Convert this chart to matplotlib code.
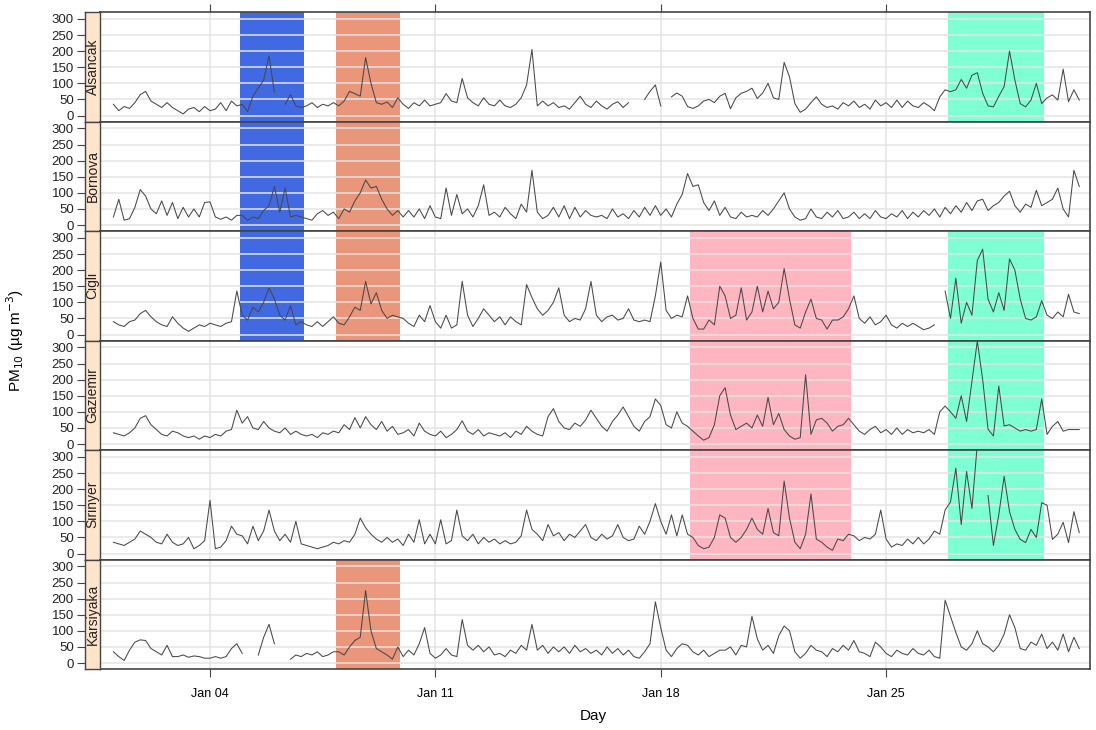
import numpy as np
import pandas as pd
import matplotlib
matplotlib.use("Agg")
import matplotlib.pyplot as plt
import matplotlib.dates as mdates

plt.rcParams['font.family'] = ['Liberation Sans', 'DejaVu Sans']

nan = np.nan

# 4-hourly PM10 readings, Jan 1 00:00 .. Jan 31 00:00 (6 values per day)
stations = ["Alsancak", "Bornova", "Cigli", "Gaziemir", "Sirinyer", "Karsiyaka"]

alsancak = [
    35, 15, 28, 22, 40, 65, 75, 45, 35, 25, 40, 25,
    15, 5, 20, 25, 12, 28, 15, 20, 40, 15, 45, 30,
    35, 12, 60, 85, 110, 185, 72, nan, 35, 65, 30, 25,
    30, 40, 25, 35, 30, 40, 30, 45, 75, 68, 60, 180,
    100, 40, 35, 42, 25, 55, 35, 22, 40, 30, 48, 30,
    35, 40, 68, 45, 40, 115, 55, 40, 30, 55, 35, 30,
    48, 30, 25, 35, 55, 95, 205, 30, 45, 30, 40, 25,
    30, 20, 40, 60, 35, 25, 45, 30, 20, 35, 43, 25,
    40, nan, nan, 50, 75, 95, 30, nan, 58, 70, 60, 28,
    22, 30, 45, 50, 40, 60, 69, 21, 55, 69, 75, 85,
    53, 70, 100, 55, 50, 165, 120, 37, 10, 20, 40, 58,
    35, 25, 30, 20, 40, 30, 45, 25, 35, 20, 48, 30,
    40, 25, 48, 25, 45, 30, 25, 40, 30, 15, 58, 80,
    74, 80, 112, 85, 125, 133, 69, 30, 27, 60, 90, 200,
    110, 37, 27, 48, 100, 37, 55, 64, 48, 144, 43, 80,
    48]

bornova = [
    25, 80, 15, 20, 55, 110, 90, 50, 35, 75, 30, 70,
    20, 55, 25, 50, 25, 70, 72, 25, 18, 25, 15, 30,
    30, 15, 25, 20, 45, 60, 120, 40, 115, 25, 30, 25,
    20, 15, 35, 45, 30, 40, 20, 50, 40, 75, 100, 140,
    115, 120, 80, 50, 30, 45, 25, 45, 25, 50, 20, 60,
    25, 20, 115, 30, 95, 35, 50, 25, 60, 125, 30, 40,
    25, 55, 35, 20, 65, 40, 170, 40, 20, 30, 55, 25,
    60, 20, 55, 25, 45, 30, 25, 30, 20, 50, 25, 35,
    20, 45, 25, 55, 30, 60, 30, 50, 25, 65, 95, 160,
    120, 125, 70, 45, 75, 30, 55, 25, 20, 40, 25, 30,
    25, 45, 30, 50, 75, 100, 50, 25, 15, 20, 50, 25,
    20, 40, 25, 45, 20, 25, 40, 20, 35, 20, 45, 25,
    20, 35, 25, 45, 20, 40, 25, 45, 30, 50, 25, 55,
    35, 60, 40, 70, 45, 75, 80, 45, 60, 70, 90, 105,
    60, 40, 65, 55, 108, 60, 70, 80, 115, 50, 25, 170,
    120]

cigli = [
    40, 30, 25, 40, 45, 65, 75, 55, 40, 30, 25, 55,
    35, 20, 10, 20, 30, 25, 35, 30, 25, 35, 40, 135,
    60, 45, 85, 70, 100, 145, 110, 60, 45, 90, 30, 40,
    30, 25, 40, 25, 40, 55, 35, 30, 55, 85, 75, 165,
    95, 130, 75, 50, 60, 55, 50, 35, 25, 60, 40, 90,
    40, 20, 60, 20, 30, 165, 60, 25, 50, 80, 60, 40,
    55, 30, 55, 40, 30, 155, 115, 80, 60, 75, 100, 145,
    60, 40, 50, 45, 80, 165, 60, 40, 55, 60, 45, 50,
    80, 45, 40, 45, 40, 120, 225, 75, 50, 60, 55, 120,
    50, 17, 17, 45, 30, 150, 120, 50, 60, 145, 45, 70,
    150, 70, 135, 80, 100, 205, 110, 30, 20, 70, 110, 50,
    45, 17, 45, 45, 55, 80, 120, 50, 35, 55, 30, 40,
    60, 30, 20, 35, 25, 35, 25, 15, 20, 30, nan, 135,
    50, 175, 35, 100, 60, 230, 265, 110, 70, 130, 75, 235,
    200, 110, 50, 45, 55, 105, 60, 50, 70, 55, 125, 70,
    65]

gaziemir = [
    35, 30, 25, 35, 50, 80, 88, 60, 45, 30, 25, 40,
    35, 25, 20, 25, 15, 25, 20, 30, 25, 40, 45, 105,
    65, 85, 50, 45, 70, 50, 40, 35, 50, 30, 40, 30,
    25, 30, 20, 35, 30, 40, 35, 60, 45, 82, 50, 85,
    60, 45, 70, 40, 55, 30, 35, 45, 25, 65, 40, 30,
    25, 40, 20, 30, 45, 72, 40, 30, 45, 25, 35, 30,
    25, 35, 20, 40, 30, 55, 40, 30, 25, 85, 110, 70,
    50, 45, 65, 55, 75, 105, 80, 55, 40, 70, 90, 115,
    85, 55, 40, 70, 85, 140, 120, 60, 50, 100, 65, 55,
    40, 25, 12, 20, 60, 150, 175, 90, 45, 55, 65, 50,
    90, 55, 145, 60, 95, 45, 25, 15, 20, 215, 30, 75,
    80, 65, 40, 55, 60, 80, 60, 40, 30, 45, 55, 35,
    45, 30, 50, 30, 45, 35, 40, 35, 45, 30, 100, 118,
    100, 80, 150, 70, 195, 320, 200, 46, 25, 180, 56, 60,
    50, 40, 45, 40, 45, 140, 30, 55, 70, 40, 45, 45,
    45]

sirinyer = [
    35, 30, 25, 35, 45, 70, 60, 50, 35, 30, 60, 35,
    25, 30, 50, 15, 25, 40, 165, 15, 20, 40, 85, 60,
    55, 30, 85, 40, 70, 135, 70, 40, 60, 35, 100, 30,
    25, 20, 15, 20, 25, 35, 30, 40, 35, 60, 110, 80,
    60, 45, 35, 50, 35, 45, 25, 60, 35, 105, 30, 60,
    30, 105, 30, 40, 135, 55, 40, 60, 30, 50, 35, 45,
    30, 40, 30, 35, 55, 135, 75, 60, 40, 90, 55, 65,
    40, 60, 50, 70, 90, 50, 40, 60, 45, 55, 90, 50,
    40, 45, 85, 60, 100, 155, 100, 60, 120, 55, 120, 60,
    50, 25, 15, 20, 50, 120, 110, 50, 35, 50, 75, 110,
    75, 60, 140, 65, 55, 225, 110, 35, 15, 60, 185, 45,
    35, 20, 10, 45, 40, 60, 55, 40, 50, 45, 60, 135,
    45, 20, 30, 25, 45, 30, 50, 30, 45, 70, 60, 135,
    160, 265, 90, 255, 140, 340, nan, 180, 25, 120, 240, 130,
    75, 44, 34, 75, 50, 158, 150, 44, 60, 97, 34, 130,
    65]

karsiyaka = [
    35, 20, 8, 40, 65, 72, 70, 45, 35, 25, 55, 20,
    20, 25, 18, 22, 20, 15, 15, 20, 15, 20, 45, 60,
    30, nan, nan, 25, 80, 120, 60, nan, nan, 12, 25, 20,
    30, 25, 35, 20, 25, 35, 35, 25, 50, 70, 80, 225,
    100, 45, 35, 25, 12, 50, 20, 40, 25, 60, 110, 30,
    15, 25, 45, 25, 20, 135, 55, 40, 55, 35, 50, 25,
    30, 20, 40, 30, 55, 40, 120, 40, 55, 30, 50, 35,
    50, 30, 55, 35, 45, 30, 40, 25, 50, 30, 45, 25,
    40, 20, 15, 35, 60, 190, 110, 40, 20, 45, 60, 55,
    35, 25, 40, 20, 30, 40, 40, 50, 25, 55, 50, 145,
    75, 40, 55, 30, 85, 115, 100, 35, 15, 30, 55, 40,
    35, 20, 45, 35, 55, 40, 70, 35, 30, 20, 65, 50,
    30, 20, 40, 30, 25, 45, 30, 25, 40, 20, 15, 195,
    145, 95, 50, 40, 60, 100, 60, 50, 35, 55, 90, 150,
    110, 45, 40, 65, 55, 90, 45, 65, 40, 90, 35, 80,
    45]

series = [alsancak, bornova, cigli, gaziemir, sirinyer, karsiyaka]
times = pd.date_range("2015-01-01", periods=181, freq="4h")

# highlighted episodes
ep_start = ["2015-01-04 22:00", "2015-01-07 22:00", "2015-01-18 22:00", "2015-01-26 22:00"]
ep_end = ["2015-01-06 22:00", "2015-01-09 22:00", "2015-01-23 22:00", "2015-01-29 22:00"]
ep_color = ["#4169E1", "#E9967A", "#FFB6C1", "#7FFFD4"]
ep_stations = [
    ["Alsancak", "Bornova", "Cigli"],
    ["Alsancak", "Bornova", "Cigli", "Karsiyaka"],
    ["Cigli", "Gaziemir", "Sirinyer"],
    ["Alsancak", "Cigli", "Gaziemir", "Sirinyer"],
]

W, H = 1096, 730
fig = plt.figure(figsize=(W / 100, H / 100), dpi=100)
top_px, bot_px = 12, 669
ph = (bot_px - top_px) / 6
ylim = (-18.5, 321.5)
xlim = (pd.Timestamp("2014-12-31 14:00"), pd.Timestamp("2015-01-31 08:00"))
edge = "#444444"

for i, (name, vals) in enumerate(zip(stations, series)):
    b = 1 - (top_px + (i + 1) * ph) / H
    ax = fig.add_axes([100 / W, b, 990 / W, ph / H])
    st = fig.add_axes([85 / W, b, 15 / W, ph / H])

    for s, e, c, who in zip(ep_start, ep_end, ep_color, ep_stations):
        if name in who:
            ax.axvspan(pd.Timestamp(s), pd.Timestamp(e), color=c, lw=0, zorder=0.2)

    ax.plot(times, vals, color="#484848", lw=0.75, zorder=2)
    ax.set_xlim(xlim)
    ax.set_ylim(ylim)
    ax.set_yticks([0, 50, 100, 150, 200, 250, 300])
    ax.set_axisbelow(True)
    ax.grid(True, color="#e4e4e4", lw=1.1)
    ax.xaxis.set_major_locator(mdates.DayLocator(bymonthday=[4, 11, 18, 25]))
    ax.xaxis.set_major_formatter(mdates.DateFormatter("%b %d"))
    ax.tick_params(axis="y", left=False, labelleft=False)
    ax.tick_params(axis="x", bottom=(i == 5), top=(i == 0), labelbottom=(i == 5),
                   direction="out", length=6, color=edge, labelsize=9, pad=8)
    for sp in ax.spines.values():
        sp.set_color(edge)
        sp.set_linewidth(1.2)

    st.set_facecolor("#FFE4CC")
    st.set_ylim(ylim)
    st.set_xticks([])
    st.set_yticks([0, 50, 100, 150, 200, 250, 300])
    st.tick_params(axis="y", direction="out", length=6, color=edge, labelsize=9.5,
                   labelcolor="#222222", pad=2)
    for sp in st.spines.values():
        sp.set_color(edge)
        sp.set_linewidth(1.0)
    st.text(0.5, 0.5, name, rotation=90, ha="center", va="center",
            transform=st.transAxes, fontsize=10, color="#222222")

fig.text(15 / W, 1 - 340 / H, "PM$_{10}$ (µg m$^{-3}$)", rotation=90,
         ha="center", va="center", fontsize=11)
fig.text(593 / W, 1 - 716 / H, "Day", ha="center", va="center", fontsize=11)

fig.savefig("out.png", dpi=100)
